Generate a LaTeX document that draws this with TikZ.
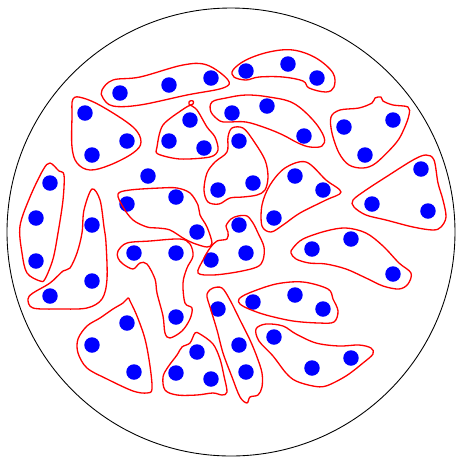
\documentclass[tikz,border=0pt]{standalone}
\usepackage{tikz}
\usetikzlibrary{calc}

\begin{document}
\begin{tikzpicture}[
  x=0.02cm, y=-0.02cm,
  dot/.style={circle, fill=blue, inner sep=0pt, minimum size=0.31cm},
  blob/.style={draw=red, line width=0.75pt, line join=round},
  rim/.style={draw=black, line width=0.5pt}
]
  \useasboundingbox (0,0) rectangle (456,458);
  \draw[rim] (231,232) circle[radius=224];
  % the points
  \foreach \px/\py [count=\i] in {120/93, 169/85, 211/78, 246/71, 288/64, 317/78,
      85/113, 127/141, 92/155, 190/120, 169/141, 204/148, 232/113, 267/106, 304/136,
      344/127, 393/120, 365/155, 239/141, 218/190, 253/183, 148/176,
      50/183, 36/218, 36/261, 92/225, 92/281, 50/296, 127/204, 176/197, 197/232,
      295/176, 323/190, 274/218, 421/169, 372/204, 428/211, 239/225, 211/260, 246/253,
      134/253, 176/253, 176/317, 312/249, 351/239, 393/274, 253/302, 295/295, 323/309,
      218/309, 239/345, 246/372, 127/323, 92/345, 134/372, 197/352, 176/373, 211/379,
      274/337, 312/368, 351/358}
    \node[dot] (p\i) at (\px,\py) {};
  % the groups
  \draw[blob] plot[smooth cycle, tension=0.6] coordinates {(102,90) (113,80) (140,77) (183,65) (207,65) (228,80) (223,88) (187,95) (140,105) (113,106) (103,98)};
  \draw[blob] plot[smooth cycle, tension=0.6] coordinates {(233,70) (246,60) (269,52) (293,50) (316,58) (333,73) (334,87) (326,92) (309,88) (303,81) (283,77) (259,77) (246,80) (234,77)};
  \draw[blob] plot[smooth cycle, tension=0.6] coordinates {(73,99) (83,98) (103,107) (133,127) (141,142) (133,153) (110,165) (90,170) (77,163) (72,147) (72,117)};
  \draw[blob] plot[smooth cycle, tension=0.5] coordinates {(185,108) (193,104) (193,101) (190,101) (189,104) (197,110) (207,127) (215,137) (218,150) (210,157) (180,159) (158,154) (157,147) (163,125)};
  \draw[blob] plot[smooth cycle, tension=0.6] coordinates {(212,102) (226,98) (246,95) (269,97) (293,103) (313,120) (324,137) (322,146) (310,147) (298,143) (283,135) (266,128) (246,122) (228,122) (220,121) (211,112)};
  \draw[blob] plot[smooth cycle, tension=0.55] coordinates {(331,117) (340,110) (359,108) (372,103) (375,98) (381,97) (383,101) (393,105) (408,107) (409,115) (404,129) (396,143) (376,163) (363,168) (349,165) (339,153) (332,133)};
  \draw[blob] plot[smooth cycle, tension=0.55] coordinates {(232,128) (243,128) (253,140) (265,160) (268,177) (265,190) (257,195) (243,197) (230,198) (219,204) (208,202) (204,190) (207,173) (215,162) (227,152) (228,137)};
  \draw[blob] plot[smooth cycle, tension=0.55] coordinates {(50,163) (59,171) (64,175) (63,200) (58,233) (53,259) (45,279) (40,281) (27,273) (22,253) (20,226) (30,197) (43,170)};
  \draw[blob] plot[smooth cycle, tension=0.55] coordinates {(92,189) (100,200) (104,227) (106,243) (107,279) (102,299) (87,308) (60,309) (33,308) (28,299) (33,293) (50,283) (63,271) (70,268) (77,253) (82,233) (84,210)};
  \draw[blob] plot[smooth cycle, tension=0.55] coordinates {(118,194) (130,190) (160,188) (177,188) (190,193) (198,205) (200,215) (207,227) (212,243) (207,247) (193,243) (183,238) (170,230) (158,228) (147,227) (133,220) (123,207)};
  \draw[blob] plot[smooth cycle, tension=0.55] coordinates {(306,162) (326,180) (341,192) (326,200) (300,213) (283,225) (271,232) (262,226) (262,205) (270,185) (285,168)};
  \draw[blob] plot[smooth cycle, tension=0.55] coordinates {(353,200) (366,190) (386,177) (413,160) (426,155) (434,160) (438,183) (443,200) (446,217) (441,227) (433,230) (413,227) (386,220) (366,215) (354,207)};
  \draw[blob] plot[smooth cycle, tension=0.55] coordinates {(238,216) (247,216) (253,223) (258,233) (264,247) (263,260) (257,267) (237,272) (213,275) (198,273) (203,260) (210,248) (217,241) (227,239) (228,232) (226,226) (231,219)};
  \draw[blob] plot[smooth cycle, tension=0.55] coordinates {(118,251) (127,243) (150,241) (180,239) (190,244) (193,256) (187,268) (183,283) (185,303) (192,308) (190,319) (182,331) (170,338) (165,333) (163,316) (157,293) (155,279) (147,264) (140,263) (133,269) (123,264) (118,258)};
  \draw[blob] plot[smooth cycle, tension=0.55] coordinates {(293,248) (303,239) (326,231) (346,228) (366,233) (383,246) (399,263) (411,273) (408,284) (399,289) (383,286) (366,278) (346,269) (326,264) (309,263) (296,259) (291,253)};
  \draw[blob] plot[smooth cycle, tension=0.55] coordinates {(239,299) (249,293) (276,284) (303,282) (328,289) (333,299) (338,311) (334,322) (319,323) (293,321) (266,315) (249,309) (240,304)};
  \draw[blob] plot[smooth cycle, tension=0.55] coordinates {(208,292) (213,288) (222,288) (230,300) (240,320) (250,340) (257,357) (262,373) (262,387) (258,395) (250,397) (247,403) (240,397) (232,377) (223,353) (217,330) (210,307) (207,297)};
  \draw[blob] plot[smooth cycle, tension=0.55] coordinates {(128,298) (130,301) (137,316) (145,339) (150,366) (152,389) (147,393) (133,391) (107,379) (87,368) (78,353) (78,339) (87,326) (100,318) (113,309) (123,303)};
  \draw[blob] plot[smooth cycle, tension=0.55] coordinates {(195,333) (200,334) (213,344) (220,359) (224,376) (227,392) (222,395) (213,393) (197,395) (177,395) (165,390) (163,377) (168,367) (177,355) (182,347) (190,343)};
  \draw[blob] plot[smooth cycle, tension=0.55] coordinates {(256,329) (266,324) (283,326) (296,334) (316,343) (339,346) (359,345) (371,348) (373,354) (363,363) (346,376) (326,386) (313,386) (296,381) (286,373) (273,356) (259,341)};
\end{tikzpicture}
\end{document}
